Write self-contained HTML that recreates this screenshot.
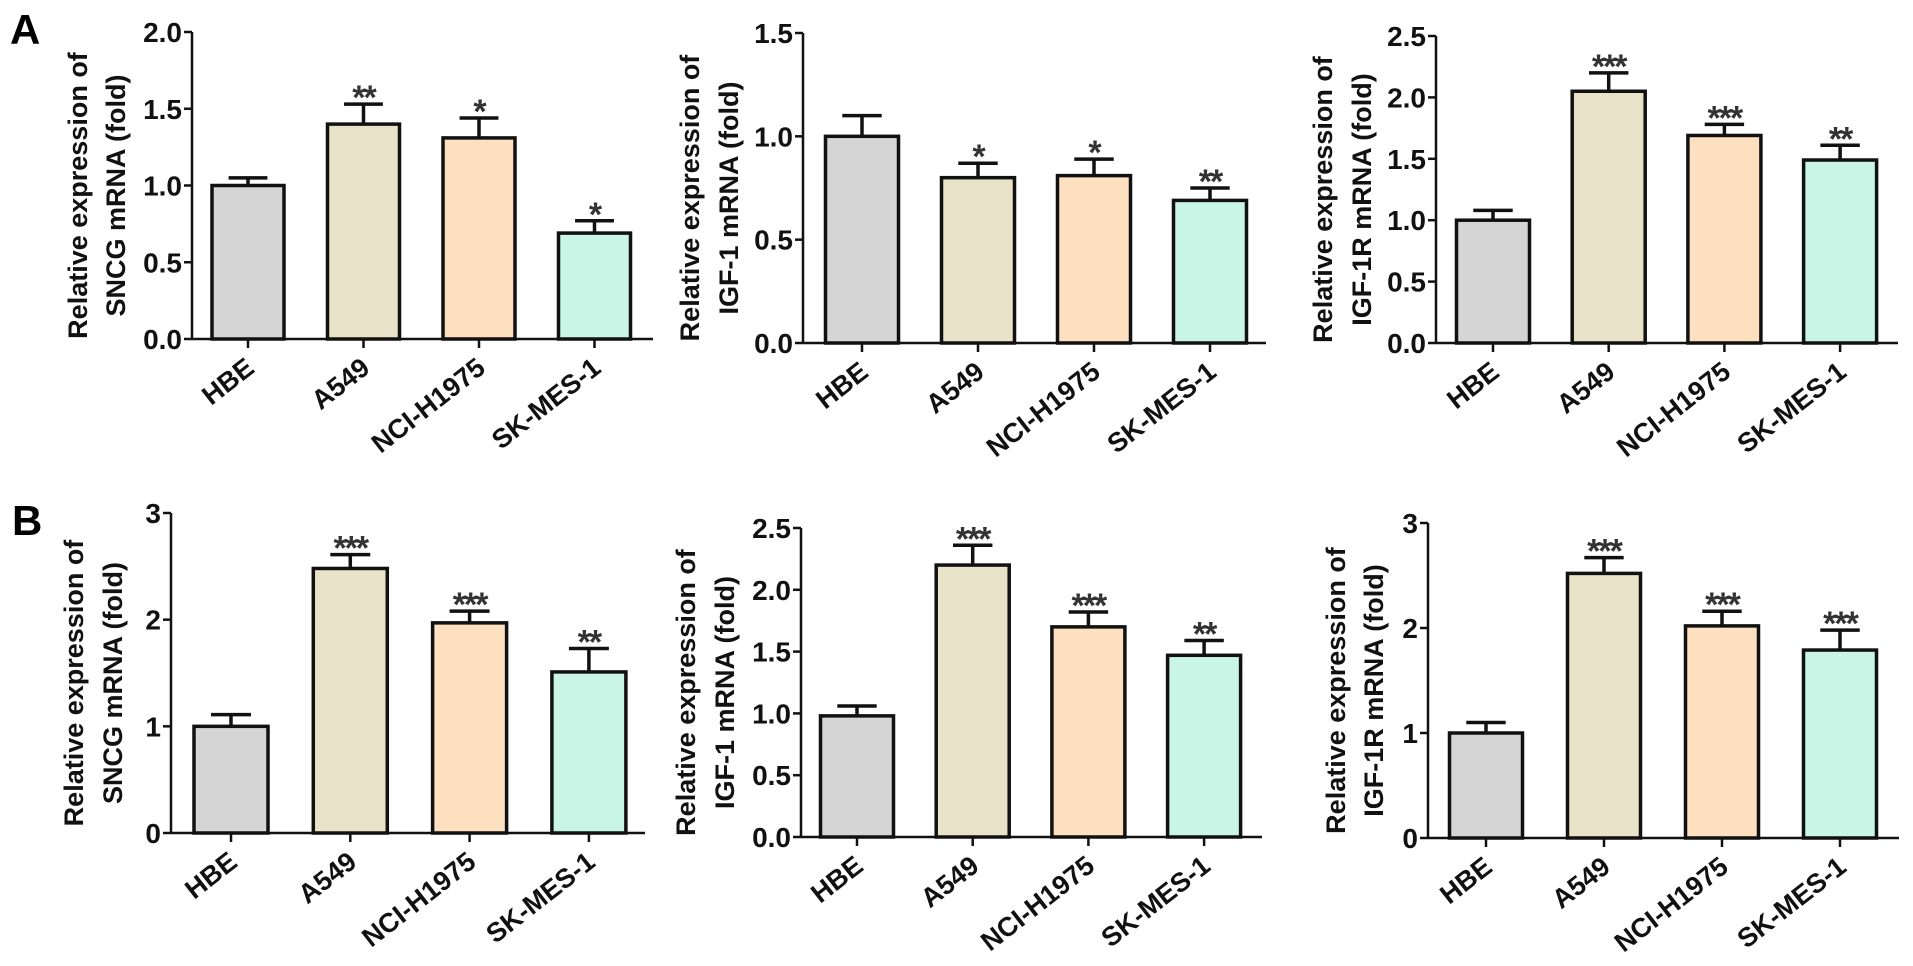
<!DOCTYPE html>
<html><head><meta charset="utf-8"><style>
body{margin:0;background:#fff;}
svg{display:block;font-family:"Liberation Sans",Arial,sans-serif;font-weight:bold;}
</style></head><body>
<svg id="fig" width="1913" height="966" viewBox="0 0 1913 966">
<text x="10" y="44" font-size="42">A</text>
<text x="12" y="535" font-size="42">B</text>
</svg>
<script>
const categories = ["HBE","A549","NCI-H1975","SK-MES-1"];
const colors = ["#d5d5d5","#e8e3c8","#fde0c0","#c9f5e6"];
const a1Values = [1.0,1.4,1.31,0.69];
const a1Errors = [0.05,0.13,0.13,0.08];
const a1Stars = ["","**","*","*"];
const a1Ticks = ["0.0","0.5","1.0","1.5","2.0"];
const a2Values = [1.0,0.8,0.81,0.69];
const a2Errors = [0.1,0.07,0.08,0.06];
const a2Stars = ["","*","*","**"];
const a2Ticks = ["0.0","0.5","1.0","1.5"];
const a3Values = [1.0,2.05,1.69,1.49];
const a3Errors = [0.08,0.15,0.09,0.12];
const a3Stars = ["","***","***","**"];
const a3Ticks = ["0.0","0.5","1.0","1.5","2.0","2.5"];
const b1Values = [1.0,2.48,1.97,1.51];
const b1Errors = [0.11,0.13,0.11,0.22];
const b1Stars = ["","***","***","**"];
const b1Ticks = ["0","1","2","3"];
const b2Values = [0.98,2.2,1.7,1.47];
const b2Errors = [0.08,0.16,0.12,0.12];
const b2Stars = ["","***","***","**"];
const b2Ticks = ["0.0","0.5","1.0","1.5","2.0","2.5"];
const b3Values = [1.0,2.52,2.02,1.79];
const b3Errors = [0.1,0.15,0.14,0.19];
const b3Stars = ["","***","***","***"];
const b3Ticks = ["0","1","2","3"];

const NS="http://www.w3.org/2000/svg";
const svg=document.getElementById('fig');
function mk(tag,attrs,parent){const e=document.createElementNS(NS,tag);for(const k in attrs)e.setAttribute(k,attrs[k]);(parent||svg).appendChild(e);return e;}

function panel(id,geo,values,errors,stars,ticks,gene){
  const g=mk('g',{});
  
  
  const ymax=parseFloat(ticks[ticks.length-1]);
  const yS=v=>geo.y0-(v/ymax)*(geo.y0-geo.yTop);
  const xS=i=>geo.t0+i*geo.dx;
  values.forEach((v,i)=>{
    const top=yS(v+errors[i]);
    const el=mk('line',{x1:xS(i),x2:xS(i),y1:yS(v),y2:top,stroke:'#111','stroke-width':3.5},g);
    
    
    const cap=mk('line',{x1:xS(i)-geo.bw*0.27,x2:xS(i)+geo.bw*0.27,y1:top,y2:top,stroke:'#111','stroke-width':3.5},g);
    
    
    const r=mk('rect',{x:xS(i)-geo.bw/2,y:yS(v),width:geo.bw,height:geo.y0-yS(v),fill:colors[i],stroke:'#111','stroke-width':3.5},g);
    
    
    if(stars[i]){
      const s=mk('text',{x:xS(i),y:top+5,'font-size':34,'text-anchor':'middle',fill:'#333','letter-spacing':'-2'},g);
      s.textContent=stars[i];
      
      
    }
    const tk=mk('line',{x1:xS(i),x2:xS(i),y1:geo.y0,y2:geo.y0+9,stroke:'#111','stroke-width':2.5},g);
    
    
    const lx=xS(i)+8, ly=geo.y0+32;
    const lb=mk('text',{x:lx,y:ly,'font-size':27,'text-anchor':'end',transform:`rotate(-38 ${lx} ${ly})`,fill:'#111'},g);
    lb.textContent=categories[i];
    
    
  });
  const ya=mk('line',{x1:geo.ax,x2:geo.ax,y1:geo.yTop,y2:geo.y0,stroke:'#111','stroke-width':2.5},g);
  
  
  const xa=mk('line',{x1:geo.ax,x2:geo.xEnd,y1:geo.y0,y2:geo.y0,stroke:'#111','stroke-width':2.5},g);
  
  
  ticks.forEach(t=>{
    const y=yS(parseFloat(t));
    const tl=mk('line',{x1:geo.ax-8,x2:geo.ax,y1:y,y2:y,stroke:'#111','stroke-width':2.5},g);
    
    
    const tt=mk('text',{x:geo.ax-10,y:y+10,'font-size':28,'text-anchor':'end',fill:'#111'},g);
    tt.textContent=t;
    
    
  });
  const cy=(geo.yTop+geo.y0)/2+10;
  const t1=mk('text',{x:geo.tx1+10,y:cy,'font-size':27,'text-anchor':'middle',transform:`rotate(-90 ${geo.tx1+10} ${cy})`,fill:'#111'},g);
  t1.textContent='Relative expression of';
  
  
  const t2=mk('text',{x:geo.tx2+10,y:cy,'font-size':27,'text-anchor':'middle',transform:`rotate(-90 ${geo.tx2+10} ${cy})`,fill:'#111'},g);
  t2.textContent=gene+' mRNA (fold)';
  
  
}
panel('a1',{ax:192,yTop:32,y0:339,xEnd:653,t0:248,dx:115.5,bw:72,tx1:77,tx2:115},a1Values,a1Errors,a1Stars,a1Ticks,'SNCG');
panel('a2',{ax:803,yTop:33,y0:343,xEnd:1266,t0:862,dx:116,bw:73,tx1:689,tx2:728},a2Values,a2Errors,a2Stars,a2Ticks,'IGF-1');
panel('a3',{ax:1436,yTop:36,y0:343,xEnd:1898,t0:1493,dx:115.7,bw:73,tx1:1322,tx2:1361},a3Values,a3Errors,a3Stars,a3Ticks,'IGF-1R');
panel('b1',{ax:171,yTop:513,y0:833,xEnd:645,t0:231,dx:119.3,bw:74,tx1:73,tx2:112},b1Values,b1Errors,b1Stars,b1Ticks,'SNCG');
panel('b2',{ax:801,yTop:528,y0:837,xEnd:1262,t0:857,dx:115.7,bw:73,tx1:685,tx2:724},b2Values,b2Errors,b2Stars,b2Ticks,'IGF-1');
panel('b3',{ax:1428,yTop:523,y0:838,xEnd:1899,t0:1486,dx:118,bw:73,tx1:1335,tx2:1373},b3Values,b3Errors,b3Stars,b3Ticks,'IGF-1R');
</script>
</body></html>
